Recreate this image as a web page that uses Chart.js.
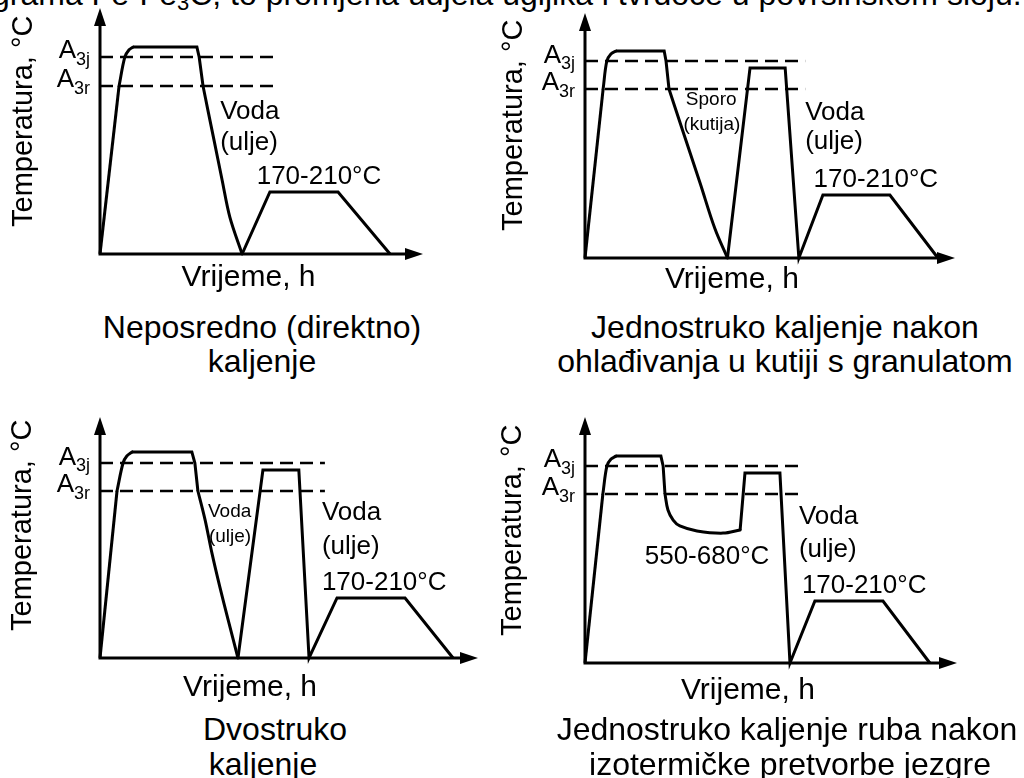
<!DOCTYPE html>
<html>
<head>
<meta charset="utf-8">
<script src="https://cdn.jsdelivr.net/npm/chart.js@4.4.1/dist/chart.umd.min.js"></script>
<style>
  html, body { margin: 0; padding: 0; background: #fff; }
  body { width: 1024px; height: 778px; position: relative; overflow: hidden;
         font-family: "Liberation Sans", Arial, sans-serif; color: #000; }
  canvas { position: absolute; }
  .cap { position: absolute; white-space: nowrap; font-size: 32px; line-height: 35px;
         transform: translateX(-50%); }
  #top { position: absolute; left: -8px; top: -22px; font-size: 32px; line-height: 33px; white-space: nowrap; }
  #top span { font-size: 22px; line-height: 0; vertical-align: -5px; }
</style>
</head>
<body>
<div id="top">grama Fe-Fe<span>3</span>C, to promjena udjela ugljika i tvrdoće u površinskom sloju.</div>
<script>
// values: time 0-10 along the x arrow, temperature 0-100 up the y arrow

// Neposredno (direktno) kaljenje
const time1 = [0, 0.59, 0.77, 0.90, 1.02, 3.00, 3.07, 3.19, 3.34, 3.53, 3.78, 4.02, 4.40, 5.26, 7.37, 8.98];
const temp1 = [0, 68.3, 80.1, 83.0, 84.1, 84.1, 80.1, 68.3, 58.5, 46.3, 30.1, 15.0, 0, 25.2, 25.2, 0];

// Jednostruko kaljenje nakon ohladivanja u kutiji
const time2 = [0, 0.49, 0.59, 0.70, 0.84, 2.14, 2.19, 2.27, 2.59, 3.11, 3.51, 3.85, 4.46, 5.41, 5.78, 6.43, 8.24, 9.54];
const temp2 = [0, 69.0, 80.4, 83.3, 84.5, 84.5, 80.4, 69.0, 54.3, 30.6, 12.0, 0, 77.6, 77.6, 0, 25.7, 25.7, 0];

// Dvostruko kaljenje
const time3 = [0, 0.45, 0.61, 0.71, 0.85, 2.43, 2.51, 2.59, 2.78, 2.96, 3.17, 3.39, 3.65, 4.31, 5.26, 5.53, 6.27, 8.07, 9.34];
const temp3 = [0, 69.3, 80.9, 83.8, 85.5, 85.5, 80.9, 69.3, 57.3, 43.6, 29.5, 15.8, 0, 78.0, 78.0, 0, 24.9, 24.9, 0];

// Jednostruko kaljenje ruba nakon izotermicke pretvorbe
const time4 = [0, 0.48, 0.59, 0.70, 0.83, 2.04, 2.10, 2.15, 2.23, 2.37, 2.55, 3.01, 3.71, 4.17, 4.30, 5.24, 5.51, 6.18, 8.01, 9.27];
const temp4 = [0, 68.7, 80.1, 82.9, 84.1, 84.1, 80.1, 68.7, 62.2, 58.1, 55.7, 53.7, 52.8, 54.1, 77.2, 77.2, 0, 25.2, 25.2, 0];

// critical temperatures (dashed lines) and how far they run
const a3j = [80.1, 80.4, 80.9, 80.1];
const a3r = [68.3, 69.0, 69.3, 68.7];
const dashEnd = [5.42, 5.95, 5.95, 5.91];

const yTitle = "Temperatura, °C";
const xTitle = "Vrijeme, h";
const captions = [
  ["Neposredno (direktno)", "kaljenje"],
  ["Jednostruko kaljenje nakon", "ohlađivanja u kutiji s granulatom"],
  ["Dvostruko", "kaljenje"],
  ["Jednostruko kaljenje ruba nakon", "izotermičke pretvorbe jezgre"]
];

const FONT = '"Liberation Sans", Arial, sans-serif';

// point-index ranges of each path that are drawn as smooth curves
const curved = [
  [[1, 4], [7, 12]],
  [[1, 4], [7, 11]],
  [[1, 4], [7, 12]],
  [[1, 4], [7, 13]]
];

// where each little diagram sits on the page
const frames = [
  { left: 0,   top: 0,   w: 500, h: 300, x0: 100, y0: 254, xTip: 423, yTop: 8 },
  { left: 490, top: 0,   w: 534, h: 300, x0: 585, y0: 258, xTip: 955, yTop: 13 },
  { left: 0,   top: 380, w: 500, h: 330, x0: 100, y0: 658, xTip: 478, yTop: 417 },
  { left: 490, top: 380, w: 534, h: 330, x0: 585, y0: 663, xTip: 957, yTop: 417 }
];

// text inside each diagram (positions in chart units)
const notes = [
  { yDx: -68, xt: 4.60, xDy: 24, labels: [
    { text: "Voda", x: 3.72, y: 57.7, size: 26, align: "left" },
    { text: "(ulje)", x: 3.72, y: 45.1, size: 26, align: "left" },
    { text: "170-210°C", x: 6.78, y: 31.3, size: 26, align: "center" } ] },
  { yDx: -63, xt: 3.97, xDy: 22, labels: [
    { text: "Sporo", x: 3.41, y: 64.5, size: 19, align: "center" },
    { text: "(kutija)", x: 3.43, y: 54.3, size: 19, align: "center" },
    { text: "Voda", x: 5.95, y: 59.2, size: 26, align: "left" },
    { text: "(ulje)", x: 5.95, y: 47.3, size: 26, align: "left" },
    { text: "170-210°C", x: 7.86, y: 31.8, size: 26, align: "center" } ] },
  { yDx: -69, xt: 3.97, xDy: 30, labels: [
    { text: "Voda", x: 3.43, y: 60.6, size: 19, align: "center" },
    { text: "(ulje)", x: 3.44, y: 50.2, size: 19, align: "center" },
    { text: "Voda", x: 5.87, y: 60.2, size: 26, align: "left" },
    { text: "(ulje)", x: 5.87, y: 46.1, size: 26, align: "left" },
    { text: "170-210°C", x: 5.87, y: 31.1, size: 26, align: "left" } ] },
  { yDx: -64, xt: 4.38, xDy: 28, labels: [
    { text: "550-680°C", x: 3.28, y: 43.1, size: 26, align: "center" },
    { text: "Voda", x: 5.75, y: 59.3, size: 26, align: "left" },
    { text: "(ulje)", x: 5.75, y: 45.9, size: 26, align: "left" },
    { text: "170-210°C", x: 5.83, y: 31.3, size: 26, align: "left" } ] }
];

const capPos = [
  [[262, 327], [262, 361]],
  [[785, 327], [785, 361]],
  [[275, 729], [263, 764]],
  [[787, 729], [790, 764]]
];

// axes with arrows, A3 labels, axis titles and notes
const schemePlugin = {
  id: "scheme",
  afterDatasetsDraw(chart, args, opts) {
    const { ctx, chartArea: a, scales: { x, y } } = chart;
    ctx.save();
    ctx.strokeStyle = "#000";
    ctx.fillStyle = "#000";
    ctx.lineWidth = 3;

    ctx.beginPath();
    ctx.moveTo(a.left, a.top + 14);
    ctx.lineTo(a.left, a.bottom);
    ctx.lineTo(a.right - 14, a.bottom);
    ctx.stroke();

    ctx.beginPath();
    ctx.moveTo(a.left, a.top);
    ctx.lineTo(a.left - 6, a.top + 18);
    ctx.lineTo(a.left + 6, a.top + 18);
    ctx.closePath();
    ctx.fill();
    ctx.beginPath();
    ctx.moveTo(a.right, a.bottom);
    ctx.lineTo(a.right - 18, a.bottom - 6);
    ctx.lineTo(a.right - 18, a.bottom + 6);
    ctx.closePath();
    ctx.fill();

    // A3j / A3r
    ctx.textAlign = "right";
    ctx.textBaseline = "alphabetic";
    [[opts.a3j, "3j"], [opts.a3r, "3r"]].forEach(([v, sub]) => {
      const py = y.getPixelForValue(v);
      ctx.font = "18px " + FONT;
      const sw = ctx.measureText(sub).width;
      ctx.fillText(sub, a.left - 10, py + 8);
      ctx.font = "26px " + FONT;
      ctx.fillText("A", a.left - 10 - sw, py + 1.5);
    });

    // axis titles
    ctx.save();
    ctx.translate(a.left + opts.yDx, a.bottom - 27);
    ctx.rotate(-Math.PI / 2);
    ctx.font = "29px " + FONT;
    ctx.textAlign = "left";
    ctx.fillText(yTitle, 0, 0);
    ctx.restore();

    ctx.font = "30px " + FONT;
    ctx.textAlign = "center";
    ctx.textBaseline = "middle";
    ctx.fillText(xTitle, x.getPixelForValue(opts.xt), a.bottom + opts.xDy);

    opts.labels.forEach(l => {
      ctx.font = l.size + "px " + FONT;
      ctx.textAlign = l.align;
      ctx.fillText(l.text, x.getPixelForValue(l.x), y.getPixelForValue(l.y));
    });
    ctx.restore();
  }
};

const series = [[time1, temp1], [time2, temp2], [time3, temp3], [time4, temp4]];

series.forEach(([times, temps], i) => {
  const f = frames[i];
  const cv = document.createElement("canvas");
  cv.width = f.w;
  cv.height = f.h;
  cv.style.left = f.left + "px";
  cv.style.top = f.top + "px";
  document.body.appendChild(cv);

  const pts = times.map((t, k) => ({ x: t, y: temps[k] }));
  const inCurve = k => curved[i].some(([s, e]) => k >= s && k < e);

  const dashed = v => ({
    data: [{ x: 0, y: v }, { x: dashEnd[i], y: v }],
    showLine: true, borderColor: "#000", borderWidth: 2.5, borderDash: [13, 7],
    pointRadius: 0, clip: false
  });

  const datasets = [
    {
      data: pts,
      showLine: true, borderColor: "#000", borderWidth: 3,
      pointRadius: 0, tension: 0, clip: false,
      segment: { borderColor: c => inCurve(c.p0DataIndex) ? "rgba(0,0,0,0)" : "#000" }
    },
    dashed(a3j[i]),
    dashed(a3r[i])
  ];
  curved[i].forEach(([s, e]) => {
    datasets.push({
      data: pts.slice(s, e + 1),
      showLine: true, borderColor: "#000", borderWidth: 3, borderCapStyle: "round",
      pointRadius: 0, tension: 0.35, clip: false
    });
  });

  new Chart(cv, {
    type: "scatter",
    data: { datasets },
    options: {
      responsive: false,
      animation: false,
      events: [],
      layout: { padding: {
        left: f.x0 - f.left, top: f.yTop - f.top,
        right: f.left + f.w - f.xTip, bottom: f.top + f.h - f.y0 } },
      scales: {
        x: { type: "linear", min: 0, max: 10, display: false },
        y: { min: 0, max: 100, display: false }
      },
      plugins: {
        legend: { display: false },
        tooltip: { enabled: false },
        scheme: Object.assign({ a3j: a3j[i], a3r: a3r[i] }, notes[i])
      }
    },
    plugins: [schemePlugin]
  });

  captions[i].forEach((line, k) => {
    const d = document.createElement("div");
    d.className = "cap";
    d.textContent = line;
    d.style.left = capPos[i][k][0] + "px";
    d.style.top = (capPos[i][k][1] - 17.5) + "px";
    document.body.appendChild(d);
  });
});
</script>
</body>
</html>
